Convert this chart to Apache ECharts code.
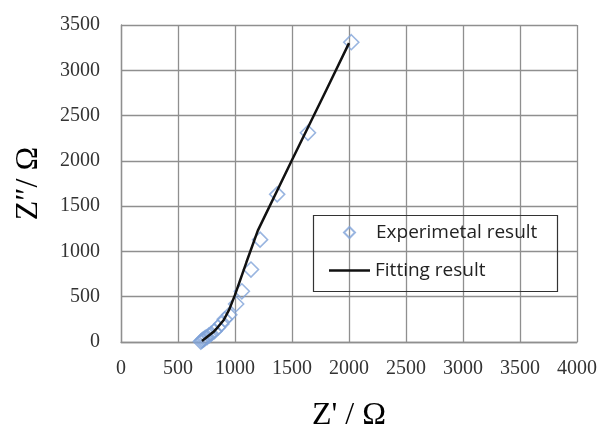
<!DOCTYPE html>
<html>
<head>
<meta charset="utf-8">
<script src="https://cdn.jsdelivr.net/npm/echarts@6/dist/echarts.min.js"></script>
<style>html,body{margin:0;padding:0;background:#fff;}#c{width:601px;height:424px;}</style>
</head>
<body>
<div id="c"></div>
<script>
// Experimental data (Z', Z'')
const expX = [700, 710, 720, 730, 740, 755, 770, 790, 820, 850, 880, 910, 950, 1010, 1060, 1140, 1220, 1370, 1640, 2020];
const expY = [5, 15, 25, 35, 45, 55, 70, 90, 120, 160, 200, 250, 300, 420, 560, 800, 1130, 1630, 2310, 3310];
// Fitting curve
const fitX = [710, 760, 810, 850, 900, 950, 1000, 1100, 1200, 1500, 1800, 2000];
const fitY = [10, 60, 110, 165, 240, 360, 520, 880, 1230, 2010, 2780, 3300];
const xTicks = [0, 500, 1000, 1500, 2000, 2500, 3000, 3500, 4000];
const yTicks = [0, 500, 1000, 1500, 2000, 2500, 3000, 3500];
const seriesNames = ['Experimetal result', 'Fitting result'];

const chart = echarts.init(document.getElementById('c'), null, {renderer: 'canvas'});
const gridColor = '#8f8f8f';
const tickFont = {fontFamily: 'Liberation Serif', fontSize: 20, color: '#333', formatter: v => String(v)};
chart.setOption({
  animation: false,
  grid: {left: 121, right: 24, top: 25, bottom: 82, containLabel: false, outerBoundsMode: 'none'},
  xAxis: {
    type: 'value', min: xTicks[0], max: xTicks[xTicks.length - 1], interval: 500,
    name: "Z' / Ω", nameLocation: 'middle', nameGap: 58,
    nameTextStyle: {fontFamily: 'Liberation Serif', fontSize: 32, color: '#000'},
    axisLine: {lineStyle: {color: gridColor, width: 1.3}},
    axisTick: {show: false},
    axisLabel: Object.assign({margin: 17}, tickFont),
    splitLine: {lineStyle: {color: gridColor, width: 1.3}}
  },
  yAxis: {
    type: 'value', min: yTicks[0], max: yTicks[yTicks.length - 1], interval: 500,
    name: 'Z″/ Ω', nameLocation: 'middle', nameGap: 76,
    nameTextStyle: {fontFamily: 'Liberation Serif', fontSize: 32, color: '#000'},
    axisLine: {show: true, lineStyle: {color: gridColor, width: 1.3}},
    axisTick: {show: false},
    axisLabel: Object.assign({margin: 21}, tickFont),
    splitLine: {lineStyle: {color: gridColor, width: 1.3}}
  },
  legend: [{
    data: [seriesNames[0]], left: 343, top: 223, padding: 0, icon: 'diamond',
    itemWidth: 11, itemHeight: 11,
    textStyle: {fontFamily: 'Open Sans', fontSize: 19, color: '#222', padding: [0, 0, 0, 16]}
  }, {
    data: [{name: seriesNames[1], icon: 'rect'}], left: 329, top: 261, padding: 0,
    itemWidth: 41, itemHeight: 2.5,
    textStyle: {fontFamily: 'Open Sans', fontSize: 19, color: '#222'}
  }],
  graphic: [{
    type: 'rect', left: 311, top: 213, z: 100, silent: true,
    shape: {width: 244, height: 76},
    style: {fill: 'none', stroke: '#333', lineWidth: 1.2}
  }],
  series: [{
    name: seriesNames[0], type: 'scatter',
    data: expX.map((x, i) => [x, expY[i]]),
    symbol: 'diamond', symbolSize: 15,
    itemStyle: {color: 'rgba(255,255,255,0)', borderColor: '#7fa3d8', borderWidth: 1.6}
  }, {
    name: seriesNames[1], type: 'line',
    data: fitX.map((x, i) => [x, fitY[i]]),
    showSymbol: false, symbol: 'none',
    lineStyle: {color: '#111', width: 2.5},
    itemStyle: {color: '#111'}
  }]
});
</script>
</body>
</html>
